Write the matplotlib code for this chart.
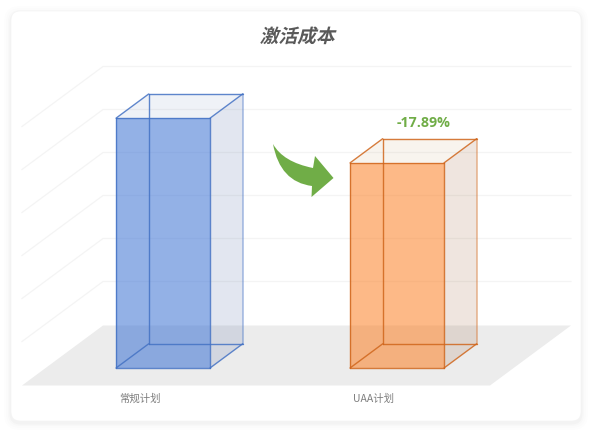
import matplotlib
matplotlib.use("Agg")
import matplotlib.pyplot as plt
import numpy as np
from matplotlib.patches import FancyBboxPatch, PathPatch, Polygon
from matplotlib.path import Path
from matplotlib.patheffects import AbstractPathEffect
from matplotlib.transforms import Affine2D

plt.rcParams['font.family'] = ['Noto Sans CJK SC', 'DejaVu Sans']

title = "激活成本"
categories = ["常规计划", "UAA计划"]
values = [58.1, 47.7]
change_label = "-17.89%"
grid_values = [10, 20, 30, 40, 50, 60]

# layout of the fake 3d chart, in pixels
FLOOR_Y = 385.5
FLOOR_LEFT = 22
FLOOR_RIGHT = 490
DEPTH = (81, -60)
PX_PER_UNIT = 4.3
BAR_LEFT = [92.4, 326.4]
BAR_W = 94
BAR_FRONT = 0.292   # share of the floor depth in front of the bar
BAR_BACK = 0.695    # share of the floor depth at the back of the bar


def project(x, value, depth):
    return (x + DEPTH[0] * depth, FLOOR_Y + DEPTH[1] * depth - value * PX_PER_UNIT)


class Slant(AbstractPathEffect):
    # fake italic, the CJK fonts have no oblique face
    def __init__(self, pivot_y, angle=14):
        super().__init__()
        self.t = Affine2D().translate(0, -pivot_y).skew_deg(angle, 0).translate(0, pivot_y)

    def draw_path(self, renderer, gc, tpath, affine, rgbFace=None):
        renderer.draw_path(gc, tpath, affine + self.t, rgbFace)


fig = plt.figure(figsize=(5.92, 4.32), dpi=100, facecolor='#ffffff')
ax = fig.add_axes([0, 0, 1, 1])
ax.set_xlim(0, 592)
ax.set_ylim(432, 0)
ax.axis('off')

# card with soft shadow
for grow, a in zip([7, 5, 3, 1.5], [0.006, 0.008, 0.012, 0.018]):
    ax.add_patch(FancyBboxPatch((11 - grow, 13 - grow), 570 + 2 * grow, 410 + 2 * grow,
                                boxstyle="round,pad=0,rounding_size=%g" % (9 + grow),
                                fc='black', ec='none', alpha=a, zorder=1))
ax.add_patch(FancyBboxPatch((11, 11), 570, 410, boxstyle="round,pad=0,rounding_size=9",
                            fc='white', ec='#f4f4f4', lw=0.5, zorder=2))

# floor
floor = [project(FLOOR_LEFT, 0, 0), project(FLOOR_RIGHT, 0, 0),
         project(FLOOR_RIGHT, 0, 1), project(FLOOR_LEFT, 0, 1)]
ax.add_patch(Polygon(floor, closed=True, fc='#ececec', ec='none', zorder=3))

# grid on the back and side wall
for v in grid_values:
    a = project(FLOOR_LEFT, v, 0)
    b = project(FLOOR_LEFT, v, 1)
    c = project(FLOOR_RIGHT, v, 1)
    ax.plot([a[0], b[0], c[0]], [a[1] - 1, b[1] - 1, c[1] - 1], color='#f4f4f4', lw=0.9, zorder=3)

bar_styles = [
    dict(face='#3e74d4', edge='#4472c4', side='#3f5c9c', side_a=0.15, top='#3f5c9c', top_a=0.08),
    dict(face='#fc8229', edge='#d0661c', side='#843c0c', side_a=0.13, top='#a66a1c', top_a=0.07),
]

for left, v, st in zip(BAR_LEFT, values, bar_styles):
    right = left + BAR_W
    fb = project(left, 0, BAR_FRONT)
    fr = project(right, 0, BAR_FRONT)
    ft = project(right, v, BAR_FRONT)
    fl = project(left, v, BAR_FRONT)
    bb = project(left, 0, BAR_BACK)
    br = project(right, 0, BAR_BACK)
    bt = project(right, v, BAR_BACK)
    bl = project(left, v, BAR_BACK)

    # side and top tints
    ax.add_patch(Polygon([fr, br, bt, ft], fc=st['side'], ec='none', alpha=st['side_a'], zorder=4))
    ax.add_patch(Polygon([fl, ft, bt, bl], fc=st['top'], ec='none', alpha=st['top_a'], zorder=4))
    # front face
    ax.add_patch(Polygon([fb, fr, ft, fl], fc=st['face'], ec='none', alpha=0.56, zorder=5))

    # wireframe
    for p, q in [(fb, fr), (fr, ft), (ft, fl), (fl, fb), (bb, br), (bb, bl),
                 (fb, bb), (fr, br), (ft, bt), (fl, bl), (bl, bt)]:
        ax.plot([p[0], q[0]], [p[1], q[1]], color=st['edge'], lw=1.0, alpha=0.85, zorder=6,
                solid_capstyle='round')
    ax.plot([br[0], bt[0]], [br[1], bt[1]], color=st['edge'], lw=1.1, alpha=0.5, zorder=6)

# green curved arrow
verts = [(273, 144), (283, 162), (313, 168), (315, 156), (333.5, 178),
         (311.5, 197), (312, 186), (280, 182), (273, 144)]
codes = [Path.MOVETO, Path.CURVE3, Path.CURVE3, Path.LINETO, Path.LINETO,
         Path.LINETO, Path.LINETO, Path.CURVE3, Path.CURVE3]
ax.add_patch(PathPatch(Path(verts, codes), fc='#70ad47', ec='none', zorder=7))

# texts
title_y = 432 - 43
t = ax.text(297, 37, title, ha='center', va='center', fontsize=13.5, fontweight='bold',
            color='#595959', zorder=8)
t.set_path_effects([Slant(title_y)])

for left, name in zip(BAR_LEFT, categories):
    ax.text(left + BAR_W / 2, 399, name, ha='center', va='center', fontsize=7.5,
            color='#7f7f7f', zorder=8)

top = project(BAR_LEFT[1] + BAR_W / 2, values[1], BAR_BACK)
ax.text(top[0] - 6, top[1] - 16, change_label, ha='center', va='center', fontsize=10.3,
        fontweight='bold', family=['Open Sans', 'DejaVu Sans'], color='#70ad47', zorder=8)

fig.savefig("out.png", dpi=100, facecolor=fig.get_facecolor())
